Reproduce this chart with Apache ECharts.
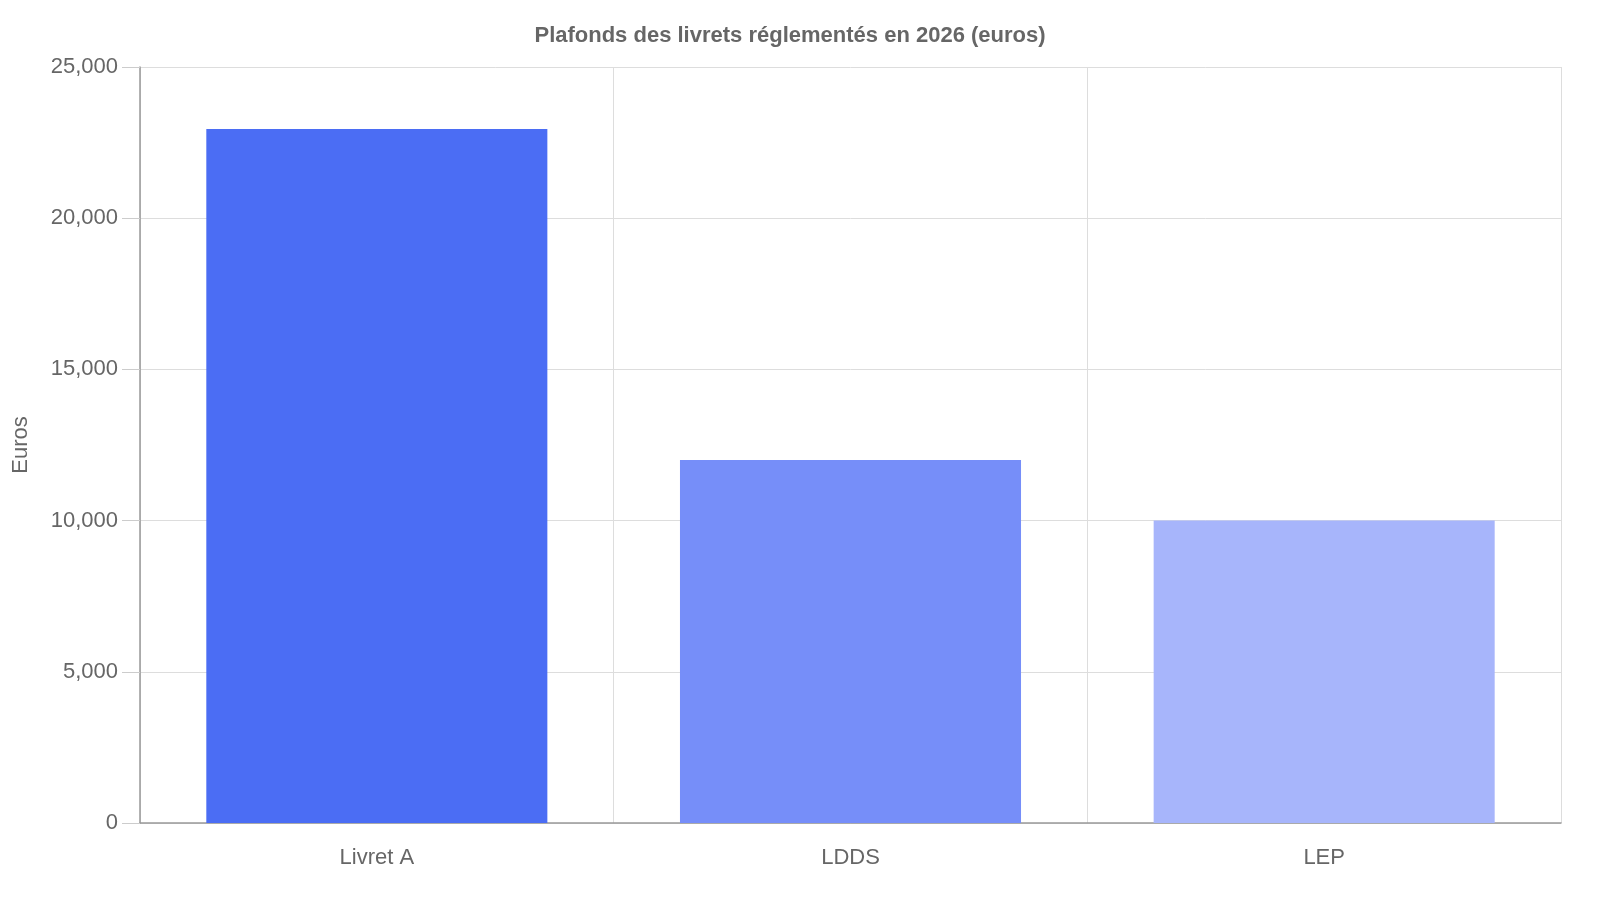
<!DOCTYPE html>
<html><head><meta charset="utf-8">
<script src="https://cdn.jsdelivr.net/npm/echarts@6/dist/echarts.min.js"></script>
<style>html,body{margin:0;padding:0;background:#fff}#c{width:1600px;height:900px}</style>
</head><body><div id="c"></div>
<script>
const categories = ['Livret A', 'LDDS', 'LEP'];
const values = [22950, 12000, 10000];
const colors = ['#4b6df4', '#768ef9', '#a7b5fb'];
const chart = echarts.init(document.getElementById('c'));
const font = 'Liberation Sans, Arial, sans-serif';
chart.setOption({
  animation: false,
  title: { text: 'Plafonds des livrets réglementés en 2026 (euros)', left: 785, textAlign: 'center', top: 20,
    textStyle: { fontFamily: font, fontSize: 22, fontWeight: 'bold', color: '#666' } },
  grid: { left: 140, right: 39, top: 67, bottom: 77 },
  xAxis: { type: 'category', data: categories,
    axisLine: { lineStyle: { color: '#999', width: 1.5 } },
    axisTick: { length: 18, lineStyle: { color: '#ccc' } },
    splitLine: { show: true, lineStyle: { color: '#ddd' } },
    axisLabel: { fontFamily: font, fontSize: 22, color: '#666', margin: 24 } },
  yAxis: { type: 'value', min: 0, max: 25000, interval: 5000,
    name: 'Euros', nameLocation: 'middle', nameGap: 108,
    nameTextStyle: { fontFamily: font, fontSize: 22, color: '#666' },
    axisLine: { show: true, lineStyle: { color: '#999', width: 1.5 } },
    axisTick: { show: true, length: 18, lineStyle: { color: '#ccc' } },
    splitLine: { lineStyle: { color: '#ddd' } },
    axisLabel: { fontFamily: font, fontSize: 22, color: '#666', margin: 22 } },
  series: [{ type: 'bar', barWidth: '72%',
    data: values.map((v, i) => ({ value: v, itemStyle: { color: colors[i] } })) }]
});
</script></body></html>
